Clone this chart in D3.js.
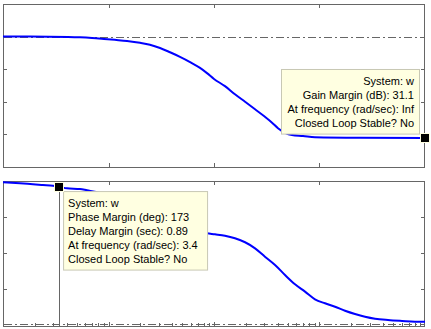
<!DOCTYPE html>
<html><head><meta charset="utf-8">
<script src="https://cdn.jsdelivr.net/npm/d3@7/dist/d3.min.js"></script>
<style>html,body{margin:0;padding:0;background:#fff;}svg{display:block;}</style>
</head><body>
<svg id="c" width="431" height="329"></svg>
<script>
// ---- data ----
const magFreq = [1, 1.8, 4.13, 5.37, 6.98, 9.06, 11.5, 15.0, 19.9, 24.7, 30.8, 38.3, 47.6, 59.3, 73.7, 85.8, 100, 127, 158, 197, 245, 304, 355, 404, 471, 548, 698, 906, 2421, 10000];
const magDB   = [0, 0, -0.1, -0.2, -0.4, -0.7, -1.0, -1.35, -1.9, -2.5, -3.5, -4.8, -6.2, -7.8, -9.6, -11.2, -13.0, -15.2, -17.7, -20.0, -22.3, -24.6, -26.4, -28.1, -29.5, -30.2, -30.5, -30.9, -31.05, -31.1];
const phFreq  = [1, 1.45, 1.92, 2.39, 2.98, 3.4, 4.04, 5.37, 6.25, 8.30, 14.3, 24.7, 42.7, 66.1, 85.9, 102, 127, 158, 197, 245, 304, 379, 471, 586, 729, 906, 1127, 1403, 1745, 2170, 2700, 3358, 4457, 6050, 8040, 10000];
const phDeg   = [-1.6, -2.9, -4.1, -5.0, -5.9, -7.0, -9.2, -10.0, -11.7, -15.1, -26.4, -40.2, -54.0, -62.8, -65.6, -66.9, -68.7, -71.9, -76.9, -84.5, -95.0, -105.4, -118.0, -129.7, -138.9, -148.5, -153.5, -157.8, -162.8, -166.9, -170.3, -172.8, -174.5, -175.7, -176.6, -176.6];
const freqDomain = [1, 10000];
const freqTicks = [10, 100, 1000];
const magDomain = [-40, 10];
const magTicks = [-30, -20, -10, 0];
const phaseDomain = [-182, 0];
const phaseTicks = [-135, -90, -45];
const gmText = ["System: w", "Gain Margin (dB): 31.1", "At frequency (rad/sec): Inf", "Closed Loop Stable? No"];
const pmText = ["System: w", "Phase Margin (deg): 173", "Delay Margin (sec): 0.89", "At frequency (rad/sec): 3.4", "Closed Loop Stable? No"];
const gmPoint = {f: 10000, v: -31.1};
const pmPoint = {f: 3.4, v: -7};

// ---- drawing ----
const svg = d3.select("#c");
const axCol = "#666";
const L = 3, R = 425;
const x = d3.scaleLog().domain(freqDomain).range([L, R]);
const yM = d3.scaleLinear().domain(magDomain).range([167, 4]);
const yP = d3.scaleLinear().domain(phaseDomain).range([326, 181]);
const tl = 4;

function frame(y, yticks, minor) {
  const [b, t] = y.range();
  const g = svg.append("g").attr("stroke", axCol).attr("stroke-width", 1).attr("fill", "none");
  // x ticks top & bottom
  freqTicks.forEach(f => {
    const xx = Math.round(x(f)) + 0.5;
    g.append("line").attr("x1", xx).attr("x2", xx).attr("y1", t).attr("y2", t + tl);
    g.append("line").attr("x1", xx).attr("x2", xx).attr("y1", b).attr("y2", b - tl);
  });
  if (minor) {
    for (let d = 1; d < 10000; d *= 10) {
      for (let k = 2; k <= 9; k++) {
        const xx = Math.round(x(d * k)) + 0.5;
        g.append("line").attr("x1", xx).attr("x2", xx).attr("y1", b).attr("y2", b - 3);
      }
    }
  }
  yticks.forEach(v => {
    const yy = Math.round(y(v)) + 0.5;
    g.append("line").attr("x1", L).attr("x2", L + tl).attr("y1", yy).attr("y2", yy);
    g.append("line").attr("x1", R).attr("x2", R - tl).attr("y1", yy).attr("y2", yy);
  });
  g.append("rect").attr("x", L + 0.5).attr("y", t + 0.5).attr("width", R - L - 1).attr("height", b - t);
}

frame(yM, magTicks, false);
frame(yP, phaseTicks, true);

// reference dash-dot lines
svg.append("line").attr("x1", L + 1).attr("x2", R - 1)
  .attr("y1", Math.round(yM(0)) + 0.5).attr("y2", Math.round(yM(0)) + 0.5)
  .attr("stroke", axCol).attr("stroke-dasharray", "8,3,2,3");
svg.append("line").attr("x1", L + 1).attr("x2", R - 1)
  .attr("y1", Math.round(yP(-180)) + 0.5).attr("y2", Math.round(yP(-180)) + 0.5)
  .attr("stroke", axCol).attr("stroke-dasharray", "8,3,2,3");

// phase margin vertical line
svg.append("line").attr("x1", Math.round(x(pmPoint.f)) + 0.5).attr("x2", Math.round(x(pmPoint.f)) + 0.5)
  .attr("y1", yP(pmPoint.v)).attr("y2", yP.range()[0])
  .attr("stroke", axCol);

// curves
const magLine = d3.line().x(d => x(d[0])).y(d => yM(d[1])).curve(d3.curveMonotoneX);
const phLine = d3.line().x(d => x(d[0])).y(d => yP(d[1])).curve(d3.curveMonotoneX);
svg.append("path").attr("d", magLine(d3.zip(magFreq, magDB))).attr("fill", "none").attr("stroke", "#0000ff").attr("stroke-width", 2);
svg.append("path").attr("d", phLine(d3.zip(phFreq, phDeg))).attr("fill", "none").attr("stroke", "#0000ff").attr("stroke-width", 2);

// tooltips
function tip(lines, bx, by, w, anchor) {
  const lh = 13.9;
  const h = lines.length * lh + 9;
  const g = svg.append("g");
  g.append("rect").attr("x", bx + 0.5).attr("y", by + 0.5).attr("width", w).attr("height", h)
    .attr("fill", "#ffffe1").attr("stroke", "#c8c8b4");
  lines.forEach((s, i) => {
    g.append("text").text(s)
      .attr("x", anchor === "end" ? bx + w - 5 : bx + 5)
      .attr("y", by + 16 + i * lh)
      .attr("text-anchor", anchor)
      .attr("font-family", "Liberation Sans, Arial, sans-serif")
      .attr("font-size", "11px").attr("fill", "#000");
  });
  return h;
}
const gx = x(gmPoint.f), gy = yM(gmPoint.v);
tip(gmText, gx - 144, gy - 69, 138, "end");
const px = x(pmPoint.f), py = yP(pmPoint.v);
tip(pmText, px + 4, py + 4.5, 144, "start");

// markers
function marker(cx, cy) {
  svg.append("rect").attr("x", Math.round(cx) - 4.5).attr("y", Math.round(cy) - 4.5).attr("width", 9).attr("height", 9)
    .attr("fill", "#000").attr("stroke", "#ffffe1").attr("stroke-width", 1);
}
marker(gx, gy);
marker(px, py);
</script>
</body></html>
